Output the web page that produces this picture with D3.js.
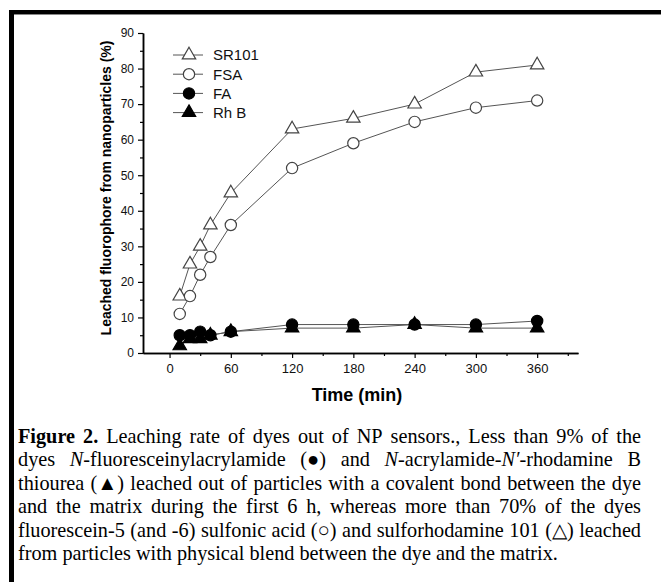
<!DOCTYPE html>
<html>
<head>
<meta charset="utf-8">
<script src="https://cdn.jsdelivr.net/npm/d3@7"></script>
<style>
  html, body { margin: 0; padding: 0; background: #fff; }
  svg { display: block; }
</style>
</head>
<body>
<svg id="fig" width="661" height="582"></svg>
<script>
// Sampling times (min) and leached fraction (%) for each dye
const times = [10, 20, 30, 40, 60, 120, 180, 240, 300, 360];
const sr101 = [16, 25, 30, 36, 45, 63, 66, 70, 79, 81];
const fsa   = [11, 16, 22, 27, 36, 52, 59, 65, 69, 71];
const fa    = [5, 5, 6, 5, 6, 8, 8, 8, 8, 9];
const rhb   = [2, 4, 4, 5, 6, 7, 7, 8, 7, 7];

const seriesNames = ["SR101", "FSA", "FA", "Rh B"];
const xTicks = [0, 60, 120, 180, 240, 300, 360];
const xMinor = [30, 90, 150, 210, 270, 330, 390];
const yTicks = [0, 10, 20, 30, 40, 50, 60, 70, 80, 90];
const yMinor = [5, 15, 25, 35, 45, 55, 65, 75, 85];

const xLabel = "Time (min)";
const yLabel = "Leached fluorophore from nanoparticles (%)";

// Caption: each line is a list of words, each word a list of [text, style] pieces
const captionLines = [
  [[["Figure", "b"]], [["2.", "b"]], [["Leaching", "n"]], [["rate", "n"]], [["of", "n"]], [["dyes", "n"]], [["out", "n"]], [["of", "n"]], [["NP", "n"]], [["sensors.,", "n"]], [["Less", "n"]], [["than", "n"]], [["9%", "n"]], [["of", "n"]], [["the", "n"]]],
  [[["dyes", "n"]], [["N", "i"], ["-fluoresceinylacrylamide", "n"]], [["(●)", "n"]], [["and", "n"]], [["N", "i"], ["-acrylamide-", "n"], ["N′", "i"], ["-rhodamine", "n"]], [["B", "n"]]],
  "thiourea (▲) leached out of particles with a covalent bond between the dye",
  "and the matrix during the first 6 h, whereas more than 70% of the dyes",
  "fluorescein-5 (and -6) sulfonic acid (○) and sulforhodamine 101 (△) leached",
  "from particles with physical blend between the dye and the matrix."
];

const svg = d3.select("#fig");

// Frame rules along the top and left edges
svg.append("rect").attr("x", 9).attr("y", 10).attr("width", 652).attr("height", 4).attr("fill", "#000");
svg.append("rect").attr("x", 9).attr("y", 10).attr("width", 5).attr("height", 572).attr("fill", "#000");
svg.append("line").attr("x1", 14).attr("x2", 661).attr("y1", 14.5).attr("y2", 14.5).attr("stroke", "#888").attr("stroke-width", 1);

const x = d3.scaleLinear().domain([-26, 400]).range([143, 578]);
const y = d3.scaleLinear().domain([0, 90]).range([353, 33]);

const plot = svg.append("g");

function styleAxis(size) {
  return g => {
    g.select(".domain").attr("stroke", "#000").attr("stroke-width", 1.5);
    g.selectAll(".tick line").attr("stroke", "#000").attr("stroke-width", 1.2);
    g.selectAll(".tick text").attr("font-family", "Liberation Sans, Arial, sans-serif").attr("font-size", size).attr("fill", "#111");
  };
}

// Minor ticks
plot.append("g").attr("transform", `translate(0,${y(0)})`)
  .call(d3.axisBottom(x).tickValues(xMinor).tickSize(3).tickSizeOuter(0).tickFormat(""))
  .call(styleAxis(13));
plot.append("g").attr("transform", `translate(${x(-26)},0)`)
  .call(d3.axisLeft(y).tickValues(yMinor).tickSize(3).tickSizeOuter(0).tickFormat(""))
  .call(styleAxis(12));

// Major ticks
plot.append("g").attr("transform", `translate(0,${y(0)})`)
  .call(d3.axisBottom(x).tickValues(xTicks).tickSize(5).tickSizeOuter(0).tickPadding(6))
  .call(styleAxis(13));
plot.append("g").attr("transform", `translate(${x(-26)},0)`)
  .call(d3.axisLeft(y).tickValues(yTicks).tickSize(5).tickSizeOuter(0).tickPadding(4))
  .call(styleAxis(12));

// Axis titles
svg.append("text")
  .attr("x", 357).attr("y", 401)
  .attr("text-anchor", "middle")
  .attr("font-family", "Liberation Sans, Arial, sans-serif")
  .attr("font-weight", "bold").attr("font-size", 18)
  .text(xLabel);
svg.append("text")
  .attr("transform", "translate(111,188) rotate(-90)")
  .attr("text-anchor", "middle")
  .attr("font-family", "Liberation Sans, Arial, sans-serif")
  .attr("font-weight", "bold").attr("font-size", 14)
  .text(yLabel);

// Series definitions
const series = [
  { name: seriesNames[0], values: sr101, shape: d3.symbolTriangle, size: 78, fill: "#fff" },
  { name: seriesNames[1], values: fsa,   shape: d3.symbolCircle,   size: 100, fill: "#fff" },
  { name: seriesNames[2], values: fa,    shape: d3.symbolCircle,   size: 100, fill: "#000" },
  { name: seriesNames[3], values: rhb,   shape: d3.symbolTriangle, size: 78, fill: "#000" }
];

const line = d3.line().x(d => x(d[0])).y(d => y(d[1]));

series.forEach(s => {
  const pts = times.map((t, i) => [t, s.values[i]]);
  plot.append("path")
    .attr("d", line(pts))
    .attr("fill", "none")
    .attr("stroke", "#555")
    .attr("stroke-width", 1);
});

const drawOrder = [0, 1, 3, 2];
drawOrder.forEach(k => {
  const s = series[k];
  const sym = d3.symbol().type(s.shape).size(s.size);
  plot.append("g").selectAll("path")
    .data(times.map((t, i) => [t, s.values[i]]))
    .join("path")
    .attr("d", sym)
    .attr("transform", d => `translate(${x(d[0])},${y(d[1])})`)
    .attr("fill", s.fill)
    .attr("stroke", s.fill === "#000" ? "#000" : "#444")
    .attr("stroke-width", 1.2);
});

// Legend
const legend = svg.append("g");
series.forEach((s, i) => {
  const cy = 55 + i * 19.2;
  legend.append("line")
    .attr("x1", 173).attr("x2", 203).attr("y1", cy).attr("y2", cy)
    .attr("stroke", "#555").attr("stroke-width", 1);
  legend.append("path")
    .attr("d", d3.symbol().type(s.shape).size(s.size)())
    .attr("transform", `translate(189,${cy})`)
    .attr("fill", s.fill)
    .attr("stroke", s.fill === "#000" ? "#000" : "#444")
    .attr("stroke-width", 1.2);
  legend.append("text")
    .attr("x", 213).attr("y", cy + 5.3)
    .attr("font-family", "Liberation Sans, Arial, sans-serif")
    .attr("font-size", 15).attr("fill", "#111")
    .text(s.name);
});

// Caption, justified between the margins except the final line
const capLeft = 18, capRight = 641, capTop = 443, capStep = 23.4;
const cap = svg.append("g")
  .attr("font-family", "Liberation Serif, Times New Roman, serif")
  .attr("font-size", 20.25).attr("fill", "#000");

captionLines.forEach((ln, li) => {
  const words = typeof ln === "string" ? ln.split(" ").map(w => [[w, "n"]]) : ln;
  const yb = capTop + li * capStep;
  const nodes = words.map(w => {
    const t = cap.append("text").attr("y", yb);
    w.forEach(([txt, st]) => {
      const sp = t.append("tspan").text(txt);
      if (st === "b") sp.attr("font-weight", "bold");
      if (st === "i") sp.attr("font-style", "italic");
    });
    return t;
  });
  const widths = nodes.map(n => n.node().getComputedTextLength());
  const total = d3.sum(widths);
  const last = li === captionLines.length - 1;
  const gap = last ? 5 : (capRight - capLeft - total) / (nodes.length - 1);
  let cx = capLeft;
  nodes.forEach((n, i) => {
    n.attr("x", cx);
    cx += widths[i] + gap;
  });
});
</script>
</body>
</html>
